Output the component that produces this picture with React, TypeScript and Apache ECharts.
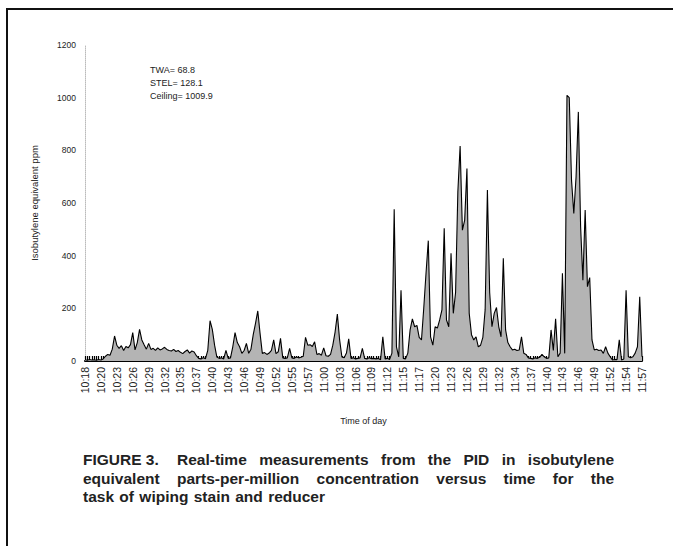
import React, { useEffect, useRef } from "react";
import * as echarts from "echarts";

const tickLabels = [
  "10:18", "10:20", "10:23", "10:26", "10:29", "10:32", "10:35", "10:37", "10:40",
  "10:43", "10:46", "10:49", "10:52", "10:55", "10:57", "11:00", "11:03", "11:06",
  "11:09", "11:12", "11:15", "11:17", "11:20", "11:23", "11:26", "11:29", "11:32",
  "11:34", "11:37", "11:40", "11:43", "11:46", "11:49", "11:52", "11:54", "11:57",
];

const pointsPerTick = 7;

// ppm readings (one per sample, 7 samples between labelled ticks)
const ppm = [
  5, 3, 6, 4, 5, 3, 6, 4, 8, 18,
  25, 22, 45, 95, 60, 48, 58, 40, 55, 50,
  62, 108, 42, 70, 120, 80, 62, 45, 67, 44,
  48, 40, 50, 42, 46, 52, 44, 40, 38, 44,
  36, 40, 33, 28, 36, 42, 30, 38, 34, 20,
  10, 8, 12, 9, 40, 153, 120, 60, 15, 10,
  12, 8, 40, 10, 12, 54, 108, 70, 54, 29,
  40, 67, 29, 45, 100, 143, 190, 105, 29, 32,
  25, 30, 40, 80, 28, 35, 86, 12, 10, 12,
  48, 12, 10, 15, 12, 14, 18, 90, 60, 62,
  55, 73, 25, 28, 22, 50, 20, 18, 25, 60,
  110, 178, 80, 15, 12, 30, 84, 10, 12, 8,
  10, 12, 48, 10, 8, 12, 9, 10, 8, 10,
  5, 92, 8, 10, 6, 30, 576, 54, 16, 269,
  10, 8, 30, 118, 160, 130, 135, 90, 80, 200,
  333, 457, 92, 60, 130, 125, 156, 194, 504, 156,
  130, 409, 181, 260, 643, 816, 497, 535, 731, 181,
  100, 80, 92, 54, 60, 90, 194, 649, 260, 130,
  181, 203, 130, 92, 390, 118, 70, 54, 42, 45,
  40, 42, 92, 29, 25, 12, 10, 8, 12, 10,
  14, 25, 16, 10, 12, 118, 40, 160, 16, 30,
  333, 29, 1009, 1000, 687, 560, 700, 946, 510, 307,
  573, 282, 317, 80, 42, 45, 40, 42, 29, 54,
  30, 16, 4, 6, 5, 80, 4, 8, 269, 16,
  12, 16, 30, 54, 244, 16,
];

const yTicks = [0, 200, 400, 600, 800, 1000, 1200];

const summary = ["TWA= 68.8", "STEL= 128.1", "Ceiling= 1009.9"];

const captionLead = "FIGURE 3.";
const captionLine1 = "Real-time measurements from the PID in isobutylene";
const captionLine2 = "equivalent parts-per-million concentration versus time for the";
const captionLine3 = "task of wiping stain and reducer";

const FONT = '"Liberation Sans", Arial, Helvetica, sans-serif';
const CAP_FONT = `bold 15.5px ${FONT}`;

function justify(text: string, x0: number, x1: number, y: number): any[] {
  const words = text.split(" ");
  const ctx = document.createElement("canvas").getContext("2d")!;
  ctx.font = CAP_FONT;
  const widths = words.map((w) => ctx.measureText(w).width);
  const total = widths.reduce((a, b) => a + b, 0);
  const gap = words.length > 1 ? (x1 - x0 - total) / (words.length - 1) : 0;
  let x = x0;
  return words.map((w, i) => {
    const el = {
      type: "text",
      x,
      y,
      silent: true,
      style: { text: w, font: CAP_FONT, fill: "#222" },
    };
    x += widths[i] + gap;
    return el;
  });
}

export default function App() {
  const ref = useRef<HTMLDivElement>(null);

  useEffect(() => {
    if (!ref.current) return;
    const chart = echarts.init(ref.current, undefined, { renderer: "svg" });

    const categories: string[] = [];
    tickLabels.forEach((lab, k) => {
      categories.push(lab);
      if (k < tickLabels.length - 1) {
        for (let j = 1; j < pointsPerTick; j++) categories.push(`${lab}#${j}`);
      }
    });

    const option: any = {
      animation: false,
      backgroundColor: "#fff",
      textStyle: { fontFamily: FONT },
      grid: { left: 85, right: 31, top: 45, bottom: 185, containLabel: false },
      xAxis: {
        type: "category",
        data: categories,
        boundaryGap: false,
        name: "Time of day",
        nameLocation: "middle",
        nameGap: 55,
        nameTextStyle: { fontSize: 9, color: "#222", fontFamily: FONT },
        axisLine: { lineStyle: { color: "#000", width: 2 } },
        axisTick: { show: true, inside: true, length: 5, interval: 0, lineStyle: { color: "#000", width: 1.2 } },
        axisLabel: {
          rotate: 90,
          fontSize: 10.5,
          color: "#222",
          fontFamily: FONT,
          margin: 6,
          interval: (idx: number) => idx % pointsPerTick === 0,
          formatter: (v: string) => v.split("#")[0],
        },
        splitLine: { show: false },
      },
      yAxis: {
        type: "value",
        min: yTicks[0],
        max: yTicks[yTicks.length - 1],
        interval: 200,
        name: "Isobutylene equivalent ppm",
        nameLocation: "middle",
        nameRotate: 90,
        nameGap: 46,
        nameTextStyle: { fontSize: 9.5, color: "#222", fontFamily: FONT },
        axisLine: { show: true, lineStyle: { color: "#bbb", type: "dotted", width: 1 } },
        axisTick: { show: false },
        splitLine: { show: false },
        axisLabel: {
          fontSize: 8.5,
          color: "#222",
          fontFamily: FONT,
          margin: 9,
          formatter: (v: number) => String(v),
        },
      },
      series: [
        {
          type: "line",
          data: ppm,
          symbol: "none",
          lineStyle: { color: "#000", width: 1.1 },
          areaStyle: { color: "#b4b4b4", opacity: 1 },
          z: 3,
        },
      ],
      graphic: [
        { type: "line", silent: true, shape: { x1: 6, y1: 9, x2: 673, y2: 9 }, style: { stroke: "#111", lineWidth: 2 } },
        { type: "line", silent: true, shape: { x1: 7, y1: 8, x2: 7, y2: 546 }, style: { stroke: "#111", lineWidth: 2 } },
        ...summary.map((s, i) => ({
          type: "text",
          x: 150,
          y: 65 + i * 13,
          silent: true,
          style: { text: s, font: `9px ${FONT}`, fill: "#222" },
        })),
        {
          type: "text",
          x: 83,
          y: 451,
          silent: true,
          style: { text: captionLead, font: CAP_FONT, fill: "#222" },
        },
        ...justify(captionLine1, 177, 614, 451),
        ...justify(captionLine2, 83, 614, 470),
        ...justify(captionLine3, 83, 325, 488),
      ],
    };

    chart.setOption(option);
    return () => chart.dispose();
  }, []);

  return (
    <div
      ref={ref}
      style={{ position: "fixed", left: 0, top: 0, width: 673, height: 546, background: "#fff" }}
    />
  );
}
